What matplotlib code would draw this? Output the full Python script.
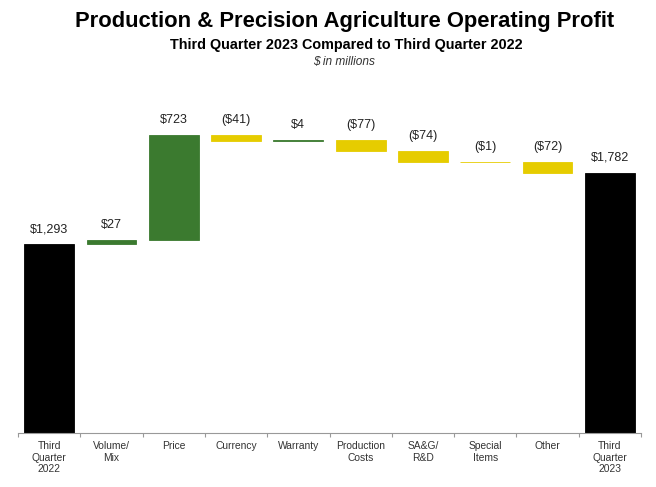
import matplotlib
matplotlib.use("Agg")
import matplotlib.pyplot as plt
import numpy as np

categories = ["Third\nQuarter\n2022", "Volume/\nMix", "Price", "Currency", "Warranty",
              "Production\nCosts", "SA&G/\nR&D", "Special\nItems", "Other", "Third\nQuarter\n2023"]
start_value = 1293
changes = [27, 723, -41, 4, -77, -74, -1, -72]
end_value = 1782
value_labels = ["$1,293", "$27", "$723", "($41)", "$4", "($77)", "($74)", "($1)", "($72)", "$1,782"]

BLACK = "#000000"
GREEN = "#3b7a2f"
YELLOW = "#e6cc00"

plt.rcParams['font.family'] = ['Liberation Sans', 'DejaVu Sans']

fig = plt.figure(figsize=(6.56, 4.87), dpi=100)
ax = fig.add_axes([18/656, 54/487, 623/656, 333/487])

bottoms, heights, colors = [], [], []
bottoms.append(0); heights.append(start_value); colors.append(BLACK)
running = start_value
for c in changes:
    if c >= 0:
        bottoms.append(running); heights.append(c); colors.append(GREEN)
    else:
        bottoms.append(running + c); heights.append(-c); colors.append(YELLOW)
    running += c
bottoms.append(0); heights.append(end_value); colors.append(BLACK)

x = np.arange(len(categories))
ax.bar(x, heights, bottom=bottoms, width=0.8, color=colors, edgecolor=colors, linewidth=0.6)

for xi, b, h, lab in zip(x, bottoms, heights, value_labels):
    ax.annotate(lab, (xi, b + h), xytext=(0, 6.5), textcoords="offset points",
                ha="center", va="bottom", fontsize=9, color="#222222")

ax.set_xlim(-0.5, len(categories) - 0.5)
ax.set_ylim(0, 333 / 0.146)
ax.set_xticks(x)
ax.set_xticklabels(categories, fontsize=7.4, color="#333333", linespacing=1.15)
ax.tick_params(axis="x", which="major", length=0, pad=6)
ax.set_xticks(np.arange(-0.5, len(categories)), minor=True)
ax.tick_params(axis="x", which="minor", length=3, color="#999999", width=0.8)
ax.set_yticks([])
for s in ["left", "right", "top"]:
    ax.spines[s].set_visible(False)
ax.spines["bottom"].set_color("#999999")
ax.spines["bottom"].set_linewidth(0.8)

fig.text(345/656, 1 - 22/487, "Production & Precision Agriculture Operating Profit",
         ha="center", va="center", fontsize=15.8, fontweight="bold", color="#000000")
fig.text(346/656, 1 - 45/487, "Third Quarter 2023 Compared to Third Quarter 2022",
         ha="center", va="center", fontsize=10.4, fontweight="bold", color="#000000")
fig.text(344/656, 1 - 62/487, "$ in millions",
         ha="center", va="center", fontsize=8.6, style="italic", color="#333333")

fig.savefig("out.png", dpi=100)
